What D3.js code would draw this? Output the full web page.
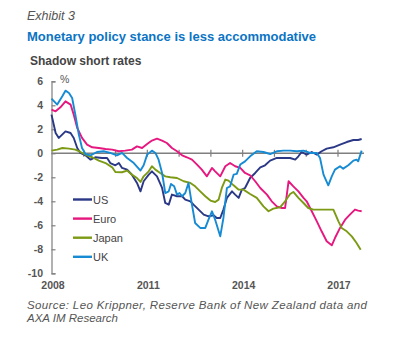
<!DOCTYPE html>
<html>
<head>
<meta charset="utf-8">
<script src="https://cdn.jsdelivr.net/npm/d3@7"></script>
<style>
html,body{margin:0;padding:0;background:#fff;}
svg{display:block;font-family:"Liberation Sans",Arial,Helvetica,sans-serif;}
</style>
</head>
<body>
<svg id="chart" width="403" height="347"></svg>
<script>
// ---- data ----
const yTicks = [6, 4, 2, 0, -2, -4, -6, -8, -10];
const xTickYears = [2008, 2011, 2014, 2017];
const seriesNames = ["US", "Euro", "Japan", "UK"];
const seriesColors = ["#2B3886", "#E6177F", "#7C9A14", "#168BD3"];

const usData = [
[2008.00,3.22],[2008.13,1.69],[2008.23,1.28],[2008.44,1.83],[2008.60,1.69],[2008.70,1.28],[2008.81,0.44],[2008.91,0.03],
[2009.07,-0.17],[2009.23,-0.53],[2009.38,-0.33],[2009.59,-0.39],[2009.75,-0.39],[2009.85,-0.81],[2010.01,-1.00],[2010.12,-0.81],
[2010.22,-1.22],[2010.38,-1.36],[2010.53,-1.78],[2010.69,-2.47],[2010.80,-3.17],[2010.90,-2.33],[2011.06,-1.78],[2011.16,-1.50],
[2011.32,-1.92],[2011.48,-2.89],[2011.58,-4.14],[2011.69,-4.28],[2011.79,-3.44],[2011.95,-3.58],[2012.11,-3.58],[2012.21,-3.86],
[2012.37,-4.00],[2012.47,-4.28],[2012.63,-4.69],[2012.79,-5.11],[2012.94,-5.25],[2013.10,-5.17],[2013.20,-5.39],[2013.31,-5.39],
[2013.41,-4.69],[2013.52,-3.72],[2013.68,-3.17],[2013.78,-3.44],[2013.89,-3.72],[2013.99,-3.03],[2014.09,-2.89],[2014.25,-2.06],
[2014.41,-1.64],[2014.57,-1.17],[2014.72,-1.00],[2014.88,-0.61],[2015.09,-0.39],[2015.30,-0.39],[2015.51,-0.39],[2015.67,-0.53],
[2015.77,-0.25],[2015.87,0.11],[2016.03,-0.11],[2016.19,0.11],[2016.35,-0.11],[2016.50,0.17],[2016.66,0.39],[2016.87,0.50],
[2017.08,0.72],[2017.29,0.94],[2017.50,1.11],[2017.65,1.11],[2017.76,1.19]
];

const euroData = [
[2008.00,3.64],[2008.13,3.50],[2008.28,3.83],[2008.44,4.33],[2008.60,4.06],[2008.70,3.22],[2008.81,2.11],[2008.96,1.28],
[2009.12,0.72],[2009.28,0.50],[2009.49,0.44],[2009.70,0.36],[2009.91,0.31],[2010.12,0.17],[2010.32,0.22],[2010.53,0.31],
[2010.69,0.58],[2010.85,0.44],[2011.01,0.78],[2011.16,1.06],[2011.32,1.22],[2011.48,1.06],[2011.63,0.86],[2011.79,0.44],
[2011.95,0.17],[2012.11,-0.17],[2012.26,-0.33],[2012.42,-0.53],[2012.58,-0.94],[2012.73,-1.36],[2012.89,-1.92],[2013.05,-1.22],
[2013.15,-1.50],[2013.31,-1.92],[2013.47,-1.08],[2013.62,-0.81],[2013.78,-1.08],[2013.94,-1.22],[2014.09,-1.64],[2014.25,-1.83],
[2014.41,-2.33],[2014.57,-2.89],[2014.78,-3.44],[2014.93,-4.00],[2015.09,-4.42],[2015.25,-4.56],[2015.35,-4.56],[2015.46,-2.33],
[2015.61,-2.75],[2015.77,-3.17],[2015.93,-3.72],[2016.03,-4.00],[2016.19,-4.83],[2016.35,-5.67],[2016.50,-6.50],[2016.66,-7.33],
[2016.82,-7.67],[2016.92,-7.06],[2017.08,-6.22],[2017.24,-5.53],[2017.39,-5.11],[2017.55,-4.69],[2017.65,-4.78],[2017.76,-4.83]
];

const japanData = [
[2008.00,0.22],[2008.18,0.31],[2008.34,0.44],[2008.55,0.39],[2008.75,0.31],[2008.91,0.11],[2009.12,-0.17],[2009.28,-0.33],
[2009.49,-0.61],[2009.70,-0.81],[2009.91,-1.17],[2010.01,-1.56],[2010.22,-1.58],[2010.38,-1.44],[2010.53,-1.78],[2010.69,-2.06],
[2010.80,-2.39],[2010.90,-1.92],[2011.06,-1.50],[2011.16,-1.08],[2011.27,-1.36],[2011.42,-1.64],[2011.58,-1.92],[2011.74,-2.00],
[2011.95,-2.06],[2012.16,-2.33],[2012.37,-2.47],[2012.52,-2.75],[2012.68,-3.17],[2012.84,-3.58],[2013.00,-3.94],[2013.15,-4.06],
[2013.26,-3.86],[2013.36,-2.89],[2013.47,-2.19],[2013.57,-2.28],[2013.73,-2.67],[2013.89,-3.03],[2014.04,-3.03],[2014.25,-3.39],
[2014.46,-3.72],[2014.67,-4.42],[2014.83,-4.83],[2014.98,-4.61],[2015.19,-4.50],[2015.35,-4.00],[2015.51,-3.39],[2015.61,-3.22],
[2015.77,-3.72],[2015.93,-4.14],[2016.08,-4.56],[2016.24,-4.69],[2016.45,-4.69],[2016.66,-4.69],[2016.87,-4.69],[2017.03,-5.67],
[2017.13,-6.22],[2017.29,-6.50],[2017.45,-6.92],[2017.60,-7.47],[2017.73,-8.03]
];

const ukData = [
[2008.00,4.56],[2008.18,4.06],[2008.34,4.75],[2008.44,5.22],[2008.55,5.03],[2008.65,4.61],[2008.75,3.22],[2008.86,1.56],
[2008.96,0.44],[2009.07,-0.06],[2009.23,-0.17],[2009.43,0.11],[2009.64,0.17],[2009.85,0.03],[2010.06,-0.17],[2010.22,0.03],
[2010.38,-0.39],[2010.59,-0.81],[2010.80,-1.44],[2010.90,-1.00],[2011.01,-0.11],[2011.16,0.22],[2011.27,0.03],[2011.37,-0.53],
[2011.48,-1.64],[2011.58,-3.31],[2011.69,-3.17],[2011.76,-2.56],[2011.86,-2.75],[2011.95,-3.44],[2012.03,-3.31],[2012.11,-3.58],
[2012.21,-3.31],[2012.31,-2.47],[2012.42,-4.28],[2012.52,-5.81],[2012.68,-6.22],[2012.84,-6.22],[2012.94,-5.53],[2013.05,-4.83],
[2013.15,-5.53],[2013.31,-6.92],[2013.41,-5.39],[2013.52,-2.89],[2013.62,-2.75],[2013.73,-1.78],[2013.83,-1.72],[2013.94,-0.94],
[2014.09,-0.67],[2014.25,-0.25],[2014.46,0.17],[2014.67,0.11],[2014.88,-0.06],[2015.09,0.17],[2015.30,0.22],[2015.51,0.22],
[2015.72,0.17],[2015.93,0.22],[2016.14,0.03],[2016.35,0.03],[2016.45,-0.39],[2016.56,-1.78],[2016.71,-2.67],[2016.82,-1.92],
[2016.92,-1.36],[2017.08,-1.08],[2017.18,-1.28],[2017.34,-1.00],[2017.50,-0.61],[2017.60,-0.53],[2017.65,-0.67],[2017.76,0.22]
];

const seriesData = [usData, euroData, japanData, ukData];

// ---- layout ----
const svg = d3.select("#chart");
const x = d3.scaleLinear().domain([2008, 2017]).range([51.5, 337.5]);
const y = d3.scaleLinear().domain([-10, 6]).range([273.3, 81.3]);
const grey = "#7f7f7f";
const textCol = "#555555";

// titles
svg.append("text").attr("x", 27).attr("y", 20).attr("font-size", 12.5).attr("font-style", "italic")
  .attr("fill", textCol).text("Exhibit 3");
svg.append("text").attr("x", 27).attr("y", 41).attr("font-size", 13).attr("font-weight", "bold")
  .attr("fill", "#0B74C4").text("Monetary policy stance is less accommodative");
svg.append("text").attr("x", 30).attr("y", 65).attr("font-size", 12).attr("font-weight", "bold")
  .attr("fill", "#444").text("Shadow short rates");
svg.append("text").attr("x", 60).attr("y", 83).attr("font-size", 10.5)
  .attr("fill", textCol).text("%");

// y axis
const yAxis = d3.axisRight(y).tickValues(yTicks).tickSize(4).tickFormat("");
const gy = svg.append("g").attr("transform", `translate(${x(2008)},0)`).call(yAxis);
gy.select(".domain").attr("stroke", grey).attr("stroke-width", 1.2);
gy.selectAll(".tick line").attr("stroke", grey).attr("stroke-width", 1.2);
svg.append("g").selectAll("text").data(yTicks).join("text")
  .attr("x", 43).attr("y", d => y(d) + 3.6).attr("text-anchor", "end")
  .attr("font-size", 10.5).attr("font-weight", "bold").attr("fill", textCol)
  .text(d => d);

// zero line with year ticks
const zeroAxis = d3.axisBottom(x).tickValues(d3.range(2009, 2018)).tickSize(0).tickFormat("");
const gz = svg.append("g").attr("transform", `translate(0,${y(0)})`).call(zeroAxis);
gz.select(".domain").remove();
gz.append("line").attr("x1", x(2008)).attr("x2", 364).attr("stroke", grey).attr("stroke-width", 1.6);
gz.selectAll(".tick").append("line").attr("y1", -3.5).attr("y2", 3.5).attr("stroke", grey).attr("stroke-width", 1.2);

// x labels
svg.append("g").selectAll("text").data(xTickYears).join("text")
  .attr("x", d => x(d) + 1.5).attr("y", 288.5).attr("text-anchor", "middle")
  .attr("font-size", 10.5).attr("font-weight", "bold").attr("fill", textCol)
  .text(d => d);

// lines
const line = d3.line().x(d => x(d[0])).y(d => y(d[1]));
svg.append("g").selectAll("path").data(seriesData).join("path")
  .attr("d", line).attr("fill", "none")
  .attr("stroke", (d, i) => seriesColors[i]).attr("stroke-width", 1.9)
  .attr("stroke-linejoin", "round");

// legend
const lg = svg.append("g").selectAll("g").data(seriesNames).join("g")
  .attr("transform", (d, i) => `translate(73,${199.5 + i * 19.1})`);
lg.append("line").attr("x1", 0).attr("x2", 19).attr("stroke", (d, i) => seriesColors[i]).attr("stroke-width", 2.4);
lg.append("text").attr("x", 20).attr("y", 4).attr("font-size", 11).attr("fill", "#444").text(d => d);

// source
svg.append("text").attr("x", 27).attr("y", 308.5).attr("font-size", 11.5).attr("font-style", "italic")
  .attr("fill", textCol).attr("textLength", 340).attr("lengthAdjust", "spacing")
  .text("Source: Leo Krippner, Reserve Bank of New Zealand data and");
svg.append("text").attr("x", 27).attr("y", 321.5).attr("font-size", 11.5).attr("font-style", "italic")
  .attr("fill", textCol).text("AXA IM Research");
</script>
</body>
</html>
